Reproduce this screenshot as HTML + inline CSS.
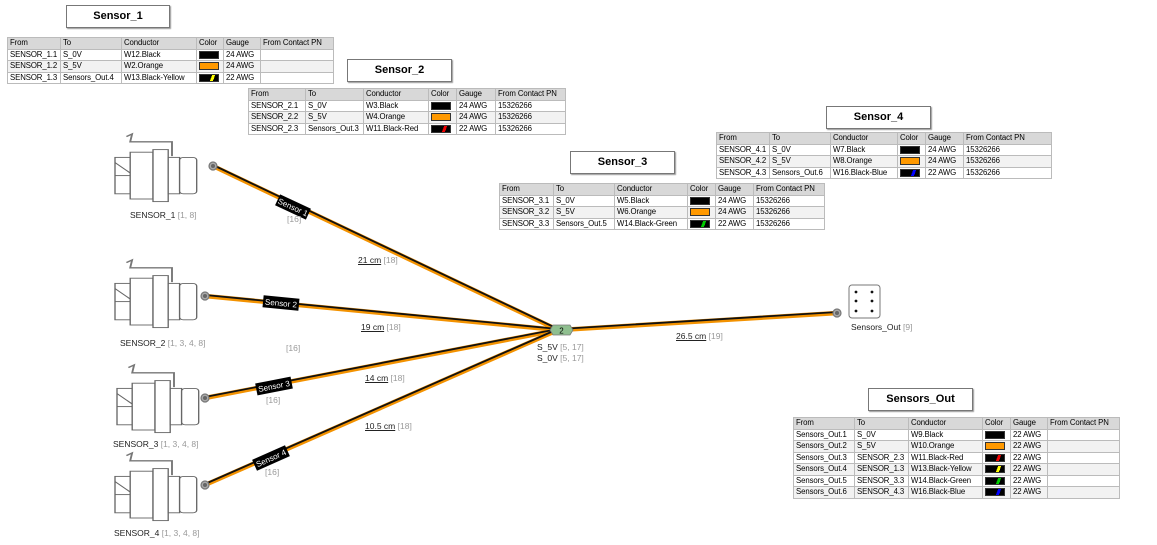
<!DOCTYPE html>
<html><head><meta charset="utf-8"><style>
body{margin:0;width:1157px;height:545px;background:#fff;position:relative;overflow:hidden;font-family:"Liberation Sans",sans-serif;}
.t{position:absolute;border:1px solid #777;background:#fff;height:21px;box-shadow:1px 1px 1px #999;font-weight:bold;font-size:11px;text-align:center;line-height:21px;}
table{position:absolute;border-collapse:collapse;font-size:7.8px;border:1.5px solid #666;table-layout:fixed;}
td{border:1px solid #bbb;padding:0 2px;height:10.5px;line-height:10px;white-space:nowrap;overflow:hidden;letter-spacing:-0.1px;}
tr.h td{background:#d8d8d8;}
tr:nth-child(odd):not(.h) td{background:#f2f2f2;}
.sw{display:inline-block;width:18px;height:6px;border:1px solid #333;vertical-align:middle;}
.lb{position:absolute;font-size:8.5px;color:#222;white-space:nowrap;}
.g{color:#999;}
</style></head><body>

<div class="t" style="left:66px;top:5px;width:102px">Sensor_1</div>
<table style="left:7px;top:37px;width:327px">
<colgroup><col style="width:53px"><col style="width:61px"><col style="width:75px"><col style="width:27px"><col style="width:37px"><col></colgroup>
<tr class="h"><td>From</td><td>To</td><td>Conductor</td><td>Color</td><td>Gauge</td><td>From Contact PN</td></tr>
<tr><td>SENSOR_1.1</td><td>S_0V</td><td>W12.Black</td><td><span class="sw" style="background:#000"></span></td><td>24 AWG</td><td></td></tr>
<tr><td>SENSOR_1.2</td><td>S_5V</td><td>W2.Orange</td><td><span class="sw" style="background:#f90"></span></td><td>24 AWG</td><td></td></tr>
<tr><td>SENSOR_1.3</td><td>Sensors_Out.4</td><td>W13.Black-Yellow</td><td><span class="sw" style="background:linear-gradient(110deg,#000 60%,#ff0 60%,#ff0 75%,#000 75%)"></span></td><td>22 AWG</td><td></td></tr>
</table>

<div class="t" style="left:347px;top:59px;width:103px">Sensor_2</div>
<table style="left:248px;top:88px;width:318px">
<colgroup><col style="width:57px"><col style="width:58px"><col style="width:65px"><col style="width:28px"><col style="width:39px"><col></colgroup>
<tr class="h"><td>From</td><td>To</td><td>Conductor</td><td>Color</td><td>Gauge</td><td>From Contact PN</td></tr>
<tr><td>SENSOR_2.1</td><td>S_0V</td><td>W3.Black</td><td><span class="sw" style="background:#000"></span></td><td>24 AWG</td><td>15326266</td></tr>
<tr><td>SENSOR_2.2</td><td>S_5V</td><td>W4.Orange</td><td><span class="sw" style="background:#f90"></span></td><td>24 AWG</td><td>15326266</td></tr>
<tr><td>SENSOR_2.3</td><td>Sensors_Out.3</td><td>W11.Black-Red</td><td><span class="sw" style="background:linear-gradient(110deg,#000 60%,#e00 60%,#e00 75%,#000 75%)"></span></td><td>22 AWG</td><td>15326266</td></tr>
</table>

<div class="t" style="left:570px;top:151px;width:103px">Sensor_3</div>
<table style="left:499px;top:183px;width:326px">
<colgroup><col style="width:54px"><col style="width:61px"><col style="width:73px"><col style="width:28px"><col style="width:38px"><col></colgroup>
<tr class="h"><td>From</td><td>To</td><td>Conductor</td><td>Color</td><td>Gauge</td><td>From Contact PN</td></tr>
<tr><td>SENSOR_3.1</td><td>S_0V</td><td>W5.Black</td><td><span class="sw" style="background:#000"></span></td><td>24 AWG</td><td>15326266</td></tr>
<tr><td>SENSOR_3.2</td><td>S_5V</td><td>W6.Orange</td><td><span class="sw" style="background:#f90"></span></td><td>24 AWG</td><td>15326266</td></tr>
<tr><td>SENSOR_3.3</td><td>Sensors_Out.5</td><td>W14.Black-Green</td><td><span class="sw" style="background:linear-gradient(110deg,#000 60%,#0c0 60%,#0c0 75%,#000 75%)"></span></td><td>22 AWG</td><td>15326266</td></tr>
</table>

<div class="t" style="left:826px;top:106px;width:103px">Sensor_4</div>
<table style="left:716px;top:132px;width:336px">
<colgroup><col style="width:53px"><col style="width:61px"><col style="width:67px"><col style="width:28px"><col style="width:38px"><col></colgroup>
<tr class="h"><td>From</td><td>To</td><td>Conductor</td><td>Color</td><td>Gauge</td><td>From Contact PN</td></tr>
<tr><td>SENSOR_4.1</td><td>S_0V</td><td>W7.Black</td><td><span class="sw" style="background:#000"></span></td><td>24 AWG</td><td>15326266</td></tr>
<tr><td>SENSOR_4.2</td><td>S_5V</td><td>W8.Orange</td><td><span class="sw" style="background:#f90"></span></td><td>24 AWG</td><td>15326266</td></tr>
<tr><td>SENSOR_4.3</td><td>Sensors_Out.6</td><td>W16.Black-Blue</td><td><span class="sw" style="background:linear-gradient(110deg,#000 60%,#00f 60%,#00f 75%,#000 75%)"></span></td><td>22 AWG</td><td>15326266</td></tr>
</table>

<div class="t" style="left:868px;top:388px;width:103px">Sensors_Out</div>
<table style="left:793px;top:417px;width:327px">
<colgroup><col style="width:61px"><col style="width:54px"><col style="width:74px"><col style="width:28px"><col style="width:37px"><col></colgroup>
<tr class="h"><td>From</td><td>To</td><td>Conductor</td><td>Color</td><td>Gauge</td><td>From Contact PN</td></tr>
<tr><td>Sensors_Out.1</td><td>S_0V</td><td>W9.Black</td><td><span class="sw" style="background:#000"></span></td><td>22 AWG</td><td></td></tr>
<tr><td>Sensors_Out.2</td><td>S_5V</td><td>W10.Orange</td><td><span class="sw" style="background:#f90"></span></td><td>22 AWG</td><td></td></tr>
<tr><td>Sensors_Out.3</td><td>SENSOR_2.3</td><td>W11.Black-Red</td><td><span class="sw" style="background:linear-gradient(110deg,#000 60%,#e00 60%,#e00 75%,#000 75%)"></span></td><td>22 AWG</td><td></td></tr>
<tr><td>Sensors_Out.4</td><td>SENSOR_1.3</td><td>W13.Black-Yellow</td><td><span class="sw" style="background:linear-gradient(110deg,#000 60%,#ff0 60%,#ff0 75%,#000 75%)"></span></td><td>22 AWG</td><td></td></tr>
<tr><td>Sensors_Out.5</td><td>SENSOR_3.3</td><td>W14.Black-Green</td><td><span class="sw" style="background:linear-gradient(110deg,#000 60%,#0c0 60%,#0c0 75%,#000 75%)"></span></td><td>22 AWG</td><td></td></tr>
<tr><td>Sensors_Out.6</td><td>SENSOR_4.3</td><td>W16.Black-Blue</td><td><span class="sw" style="background:linear-gradient(110deg,#000 60%,#00f 60%,#00f 75%,#000 75%)"></span></td><td>22 AWG</td><td></td></tr>
</table>

<svg width="1157" height="545" style="position:absolute;left:0;top:0" xmlns="http://www.w3.org/2000/svg">
<defs>
<g id="cn" fill="#fff" stroke="#666" stroke-width="0.7">
<path d="M6 2 L9 0 L8 6 L30 6 L30 17" fill="none" stroke="#777" stroke-width="1"/>
<rect x="0" y="18" width="8" height="28"/>
<line x1="0" y1="22" x2="8" y2="30"/><line x1="0" y1="32" x2="8" y2="32"/>
<rect x="8" y="14" width="12" height="36"/>
<rect x="20" y="12" width="8" height="40"/>
<rect x="28" y="18" width="6" height="28"/>
<rect x="34" y="18" width="9" height="28" rx="2"/>
</g>
</defs>
<g transform="translate(115,134) scale(1.9,1.3)"><use href="#cn"/></g>
<g transform="translate(115,260) scale(1.9,1.3)"><use href="#cn"/></g>
<g transform="translate(117,365) scale(1.9,1.3)"><use href="#cn"/></g>
<g transform="translate(115,453) scale(1.9,1.3)"><use href="#cn"/></g>

<g stroke-linecap="round">
<g stroke="#f39200" stroke-width="4.5">
<line x1="213" y1="166" x2="558" y2="330"/>
<line x1="205" y1="296" x2="558" y2="330"/>
<line x1="205" y1="398" x2="558" y2="330"/>
<line x1="205" y1="485" x2="558" y2="330"/>
<line x1="560" y1="330" x2="838" y2="313"/>
</g>
<g stroke="#111" stroke-width="1.8">
<line x1="213" y1="165" x2="558" y2="329"/>
<line x1="205" y1="295" x2="558" y2="329"/>
<line x1="205" y1="397" x2="558" y2="329"/>
<line x1="205" y1="484" x2="558" y2="329"/>
<line x1="560" y1="329" x2="838" y2="312"/>
</g>
</g>
<g fill="#aaa" stroke="#777" stroke-width="1.2">
<circle cx="213" cy="166" r="4"/><circle cx="205" cy="296" r="4"/><circle cx="205" cy="398" r="4"/><circle cx="205" cy="485" r="4"/><circle cx="837" cy="313" r="4"/>
</g>
<g fill="#666"><circle cx="213" cy="166" r="2"/><circle cx="205" cy="296" r="2"/><circle cx="205" cy="398" r="2"/><circle cx="205" cy="485" r="2"/><circle cx="837" cy="313" r="2"/></g>

<polygon points="550,330 553,325 570,325 573,330 570,335 553,335" fill="#8fbf8f" stroke="#777" stroke-width="0.8"/>
<text x="561.5" y="333.5" font-size="8" text-anchor="middle" font-family="Liberation Sans">2</text>

<rect x="849" y="285" width="31" height="33" rx="3" fill="#fff" stroke="#777"/>
<g fill="#111"><circle cx="856" cy="292" r="1.4"/><circle cx="872" cy="292" r="1.4"/><circle cx="856" cy="301" r="1.4"/><circle cx="872" cy="301" r="1.4"/><circle cx="856" cy="311" r="1.4"/><circle cx="872" cy="311" r="1.4"/></g>

<g font-family="Liberation Sans" font-size="8" fill="#fff" text-anchor="middle">
<g transform="translate(293,207) rotate(25)"><rect x="-17" y="-6" width="34" height="12" fill="#000"/><text y="3">Sensor 1</text></g>
<g transform="translate(281,303) rotate(5.5)"><rect x="-18" y="-6" width="36" height="12" fill="#000"/><text y="3">Sensor 2</text></g>
<g transform="translate(274,386) rotate(-11)"><rect x="-18" y="-6" width="36" height="12" fill="#000"/><text y="3">Sensor 3</text></g>
<g transform="translate(271,458) rotate(-24)"><rect x="-18" y="-6" width="36" height="12" fill="#000"/><text y="3">Sensor 4</text></g>
</g>
</svg>

<div class="lb" style="left:130px;top:210px">SENSOR_1 <span class="g">[1, 8]</span></div>
<div class="lb" style="left:120px;top:338px">SENSOR_2 <span class="g">[1, 3, 4, 8]</span></div>
<div class="lb" style="left:113px;top:439px">SENSOR_3 <span class="g">[1, 3, 4, 8]</span></div>
<div class="lb" style="left:114px;top:528px">SENSOR_4 <span class="g">[1, 3, 4, 8]</span></div>
<div class="lb g" style="left:287px;top:214px">[16]</div>
<div class="lb g" style="left:286px;top:343px">[16]</div>
<div class="lb g" style="left:266px;top:395px">[16]</div>
<div class="lb g" style="left:265px;top:467px">[16]</div>
<div class="lb" style="left:358px;top:255px"><u>21 cm</u> <span class="g">[18]</span></div>
<div class="lb" style="left:361px;top:322px"><u>19 cm</u> <span class="g">[18]</span></div>
<div class="lb" style="left:365px;top:373px"><u>14 cm</u> <span class="g">[18]</span></div>
<div class="lb" style="left:365px;top:421px"><u>10.5 cm</u> <span class="g">[18]</span></div>
<div class="lb" style="left:676px;top:331px"><u>26.5 cm</u> <span class="g">[19]</span></div>
<div class="lb" style="left:537px;top:342px">S_5V <span class="g">[5, 17]</span></div>
<div class="lb" style="left:537px;top:353px">S_0V <span class="g">[5, 17]</span></div>
<div class="lb" style="left:851px;top:322px">Sensors_Out <span class="g">[9]</span></div>
</body></html>
